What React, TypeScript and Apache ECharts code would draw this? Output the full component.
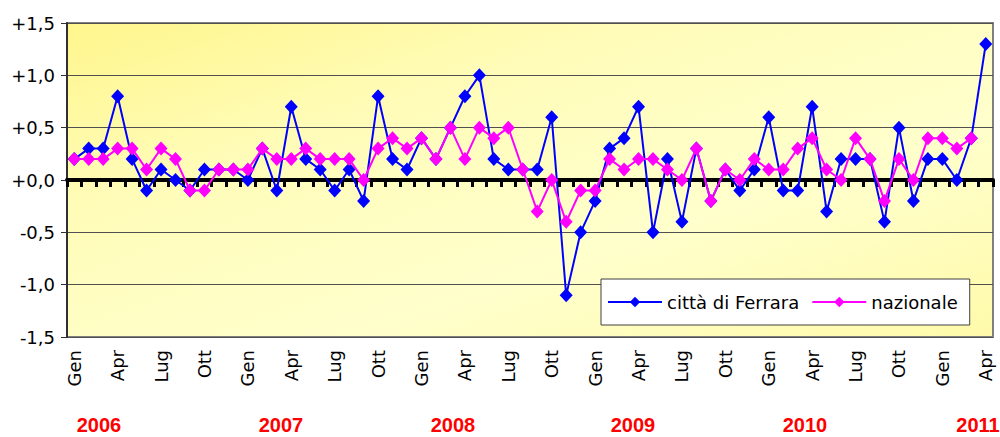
import React, { useEffect, useRef } from "react";
import * as echarts from "echarts";

const monthNames = ["Gen", "Feb", "Mar", "Apr", "Mag", "Giu", "Lug", "Ago", "Set", "Ott", "Nov", "Dic"];
const years = ["2006", "2007", "2008", "2009", "2010", "2011"];
const monthsInLastYear = 4;

const categories: string[] = [];
years.forEach((y, yi) => {
  const n = yi === years.length - 1 ? monthsInLastYear : 12;
  for (let m = 0; m < n; m++) categories.push(monthNames[m]);
});

const ferrara = [
  0.2, 0.3, 0.3, 0.8, 0.2, -0.1, 0.1, 0.0, -0.1, 0.1, 0.1, 0.1,
  0.0, 0.3, -0.1, 0.7, 0.2, 0.1, -0.1, 0.1, -0.2, 0.8, 0.2, 0.1,
  0.4, 0.2, 0.5, 0.8, 1.0, 0.2, 0.1, 0.1, 0.1, 0.6, -1.1, -0.5,
  -0.2, 0.3, 0.4, 0.7, -0.5, 0.2, -0.4, 0.3, -0.2, 0.1, -0.1, 0.1,
  0.6, -0.1, -0.1, 0.7, -0.3, 0.2, 0.2, 0.2, -0.4, 0.5, -0.2, 0.2,
  0.2, 0.0, 0.4, 1.3,
];

const nazionale = [
  0.2, 0.2, 0.2, 0.3, 0.3, 0.1, 0.3, 0.2, -0.1, -0.1, 0.1, 0.1,
  0.1, 0.3, 0.2, 0.2, 0.3, 0.2, 0.2, 0.2, 0.0, 0.3, 0.4, 0.3,
  0.4, 0.2, 0.5, 0.2, 0.5, 0.4, 0.5, 0.1, -0.3, 0.0, -0.4, -0.1,
  -0.1, 0.2, 0.1, 0.2, 0.2, 0.1, 0.0, 0.3, -0.2, 0.1, 0.0, 0.2,
  0.1, 0.1, 0.3, 0.4, 0.1, 0.0, 0.4, 0.2, -0.2, 0.2, 0.0, 0.4,
  0.4, 0.3, 0.4,
];

const seriesNames = ["città di Ferrara", "nazionale"];
const yearLabelX = [99, 281, 453, 633, 805, 978];

const FONT = "DejaVu Sans";

export default function App() {
  const ref = useRef<HTMLDivElement>(null);
  useEffect(() => {
    if (!ref.current) return;
    const chart = echarts.init(ref.current, null, { renderer: "svg" });
    chart.setOption({
      animation: false,
      backgroundColor: "#ffffff",
      grid: {
        left: 67,
        right: 7,
        top: 23,
        bottom: 100,
        show: true,
        borderColor: "#808080",
        borderWidth: 2,
        backgroundColor: new echarts.graphic.LinearGradient(0, 0, 1, 1, [
          { offset: 0, color: "#FFF68C" },
          { offset: 0.3, color: "#FFFCB8" },
          { offset: 0.65, color: "#FFFFCC" },
          { offset: 1, color: "#FFFAAA" },
        ]),
      },
      legend: {
        left: 601,
        top: 279,
        orient: "horizontal",
        backgroundColor: "#ffffff",
        borderColor: "#404040",
        borderWidth: 1,
        borderRadius: 0,
        padding: [14, 12, 14, 6],
        itemGap: 12,
        itemWidth: 54,
        itemHeight: 13,
        textStyle: { fontFamily: FONT, fontSize: 18, color: "#000" },
        data: seriesNames,
      },
      xAxis: [
        {
          type: "category",
          data: categories,
          position: "bottom",
          boundaryGap: true,
          axisLine: { show: false, onZero: false },
          axisTick: { show: false },
          splitLine: { show: false },
          axisLabel: {
            interval: 2,
            rotate: 90,
            margin: 13,
            fontFamily: FONT,
            fontSize: 18,
            color: "#000",
          },
        },
        {
          type: "category",
          data: categories,
          position: "top",
          boundaryGap: true,
          axisLine: { show: true, onZero: true, lineStyle: { color: "#000", width: 4 } },
          axisTick: { show: true, inside: true, interval: 0, length: 7, lineStyle: { color: "#000", width: 3 } },
          axisLabel: { show: false },
          splitLine: { show: false },
        },
      ],
      yAxis: {
        type: "value",
        min: -1.5,
        max: 1.5,
        interval: 0.5,
        axisLine: { show: true, onZero: false, lineStyle: { color: "#303030", width: 2 } },
        axisTick: { show: true, length: 6, lineStyle: { color: "#303030", width: 1 } },
        splitLine: { show: true, lineStyle: { color: "#505050", width: 1 } },
        axisLabel: {
          margin: 12,
          fontFamily: FONT,
          fontSize: 18,
          color: "#000",
          formatter: (v: number) => (v >= 0 ? "+" : "") + v.toFixed(1).replace(".", ","),
        },
      },
      graphic: years.map((y, i) => ({
        type: "text",
        x: yearLabelX[i],
        y: 425,
        style: {
          text: y,
          fill: "#FF0000",
          font: "bold 20px 'Liberation Sans', Arial, sans-serif",
          textAlign: "center",
          textVerticalAlign: "middle",
        },
      })),
      series: [
        {
          name: seriesNames[0],
          type: "line",
          xAxisIndex: 0,
          data: ferrara,
          symbol: "diamond",
          symbolSize: [13, 14],
          showSymbol: true,
          showAllSymbol: true,
          lineStyle: { color: "#0000FF", width: 2 },
          itemStyle: { color: "#0000FF" },
          z: 3,
        },
        {
          name: seriesNames[1],
          type: "line",
          xAxisIndex: 0,
          data: nazionale,
          symbol: "diamond",
          symbolSize: [13, 14],
          showSymbol: true,
          showAllSymbol: true,
          lineStyle: { color: "#FF00FF", width: 2 },
          itemStyle: { color: "#FF00FF" },
          z: 4,
        },
      ],
    });
    return () => chart.dispose();
  }, []);
  return (
    <div
      ref={ref}
      style={{ position: "fixed", left: 0, top: 0, width: 1000, height: 437 }}
    />
  );
}
